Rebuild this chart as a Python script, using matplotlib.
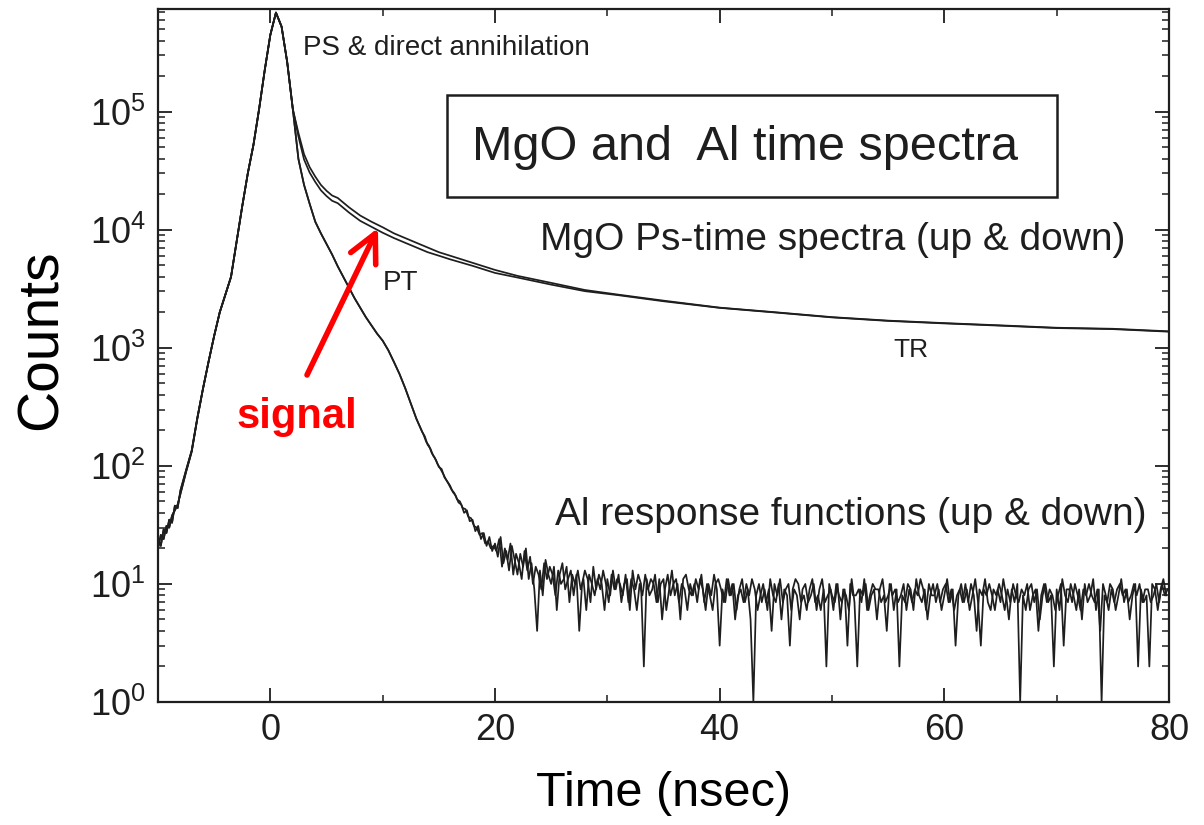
import numpy as np
import matplotlib
matplotlib.use('Agg')
import matplotlib.pyplot as plt
from matplotlib.patches import Rectangle
from matplotlib.ticker import LogLocator, MultipleLocator, NullFormatter, FixedLocator, FixedFormatter

plt.rcParams['font.family'] = ['Liberation Sans', 'DejaVu Sans']
plt.rcParams['mathtext.fontset'] = 'custom'
plt.rcParams['mathtext.rm'] = 'Liberation Sans'
plt.rcParams['mathtext.it'] = 'Liberation Sans:italic'
plt.rcParams['mathtext.bf'] = 'Liberation Sans:bold'

# ---------------- data ----------------
# common rising edge and peak (all four spectra overlap)
t_rise = [-10, -9.75, -9.5, -9.25, -9, -8.75, -8.5, -8.25, -8, -7.5, -7, -6.5, -6, -5.5, -5,
          -4.5, -4, -3.5, -3, -2.5, -2, -1.5, -1, -0.5, 0, 0.5, 1.0, 1.5, 2.0]
c_rise_a = [20, 26, 24, 31, 30, 38, 42, 47, 58, 89, 132, 251, 447, 759, 1260,
            2000, 2820, 3980, 7940, 15800, 30200, 52500, 105000, 224000, 447000, 690000,
            525000, 263000, 105000]
c_rise_b = [24, 21, 29, 27, 35, 33, 46, 44, 62, 92, 135, 255, 450, 765, 1265,
            2010, 2830, 4000, 7960, 15900, 30300, 52700, 105500, 225000, 448000, 692000,
            527000, 264000, 106000]

# MgO Ps-time spectra (up & down)
t_mgo = [2.5, 3, 3.5, 4, 4.5, 5, 5.5, 6, 7, 8, 9, 10, 11, 12, 13, 14, 15, 16, 18, 20,
         22, 25, 28, 31, 35, 40, 45, 50, 55, 60, 65, 70, 75, 80]
mgo_up = [66100, 43700, 33900, 28200, 24000, 21400, 19500, 18600, 15500, 13200, 11700,
          10500, 9330, 8510, 7760, 7080, 6460, 6030, 5250, 4570, 4070, 3550, 3090, 2820,
          2510, 2190, 2000, 1820, 1700, 1620, 1550, 1480, 1450, 1380]
mgo_down = [61700, 39400, 30500, 25400, 21600, 19300, 17600, 16800, 14000, 11900, 10600,
            9440, 8510, 7760, 7080, 6460, 6030, 5620, 4950, 4310, 3940, 3430, 3020, 2790,
            2480, 2180, 1990, 1810, 1690, 1610, 1540, 1470, 1440, 1370]

# Al response functions: smooth decay part (both overlap)
t_al = [2.5, 3.0, 3.5, 4.0, 4.5, 5.0, 5.5, 6.0, 6.5, 7.0, 7.5, 8.0, 8.5, 9.0, 9.5, 10.0,
        10.5, 11.0, 11.5, 12.0, 12.5, 13.0]
al_smooth = [39800, 24000, 16600, 11700, 9330, 7590, 6170, 4900, 3980, 3240, 2630, 2190,
             1820, 1550, 1320, 1150, 955, 760, 600, 457, 339, 251]

# Al, up: noisy decay and background
t_al_up_mid = [13.5, 13.75, 14, 14.25, 14.5, 14.75, 15, 15.25, 15.5, 15.75, 16, 16.25, 16.5,
               16.75, 17, 17.25, 17.5, 17.75, 18, 18.25, 18.5, 18.75, 19, 19.25, 19.5, 19.75]
al_up_mid = [195, 178, 151, 140, 122, 112, 98, 94, 80, 74, 68, 60, 56, 49, 47, 40, 42, 34,
             35, 28, 31, 24, 27, 21, 25, 19]
t_al_dn_mid = [13.625, 13.875, 14.125, 14.375, 14.625, 14.875, 15.125, 15.375, 15.625,
               15.875, 16.125, 16.375, 16.625, 16.875, 17.125, 17.375, 17.625, 17.875,
               18.125, 18.375, 18.625, 18.875, 19.125, 19.375, 19.625, 19.875]
al_dn_mid = [185, 160, 148, 128, 118, 104, 95, 86, 77, 70, 63, 59, 52, 50, 44, 43, 37, 36,
             31, 30, 26, 27, 22, 23, 20, 21]

# background tails, 0.25 ns channels from 20 ns (up) and 20.125 ns (down)
al_up_tail = [
    22, 17, 25, 15, 19, 13, 21, 16, 12, 18, 14, 20, 11, 15, 9, 4, 13, 8, 16, 12,
    10, 14, 6, 12, 15, 9, 11, 13, 8, 12, 4, 10, 13, 11, 7, 14, 9, 12, 10, 6,
    11, 8, 13, 9, 12, 7, 10, 11, 6, 13, 9, 12, 10, 2, 11, 8, 9, 12, 7, 10,
    11, 6, 9, 13, 8, 10, 5, 11, 12, 9, 8, 10, 7, 11, 9, 6, 10, 8, 12, 9,
    3, 9, 7, 11, 8, 10, 6, 9, 11, 7, 9, 5, 1, 8, 10, 7, 9, 6, 11, 8,
    7, 10, 5, 9, 8, 3, 9, 11, 10, 7, 8, 6, 9, 11, 7, 8, 6, 9, 2, 10,
    8, 7, 10, 5, 9, 8, 6, 11, 7, 2, 9, 8, 10, 6, 8, 9, 5, 9, 11, 7,
    8, 10, 6, 9, 2, 8, 7, 10, 9, 6, 11, 8, 7, 9, 5, 8, 10, 7, 9, 6,
    8, 11, 7, 9, 3, 8, 10, 7, 9, 6, 8, 11, 7, 3, 9, 8, 10, 8, 6, 9,
    7, 11, 8, 5, 9, 7, 10, 1, 8, 6, 9, 10, 7, 9, 5, 8, 10, 7, 8, 2,
    9, 6, 11, 8, 7, 10, 8, 6, 9, 5, 10, 7, 8, 11, 6, 9, 1, 8, 7, 10,
    9, 6, 8, 11, 7, 9, 5, 8, 10, 2, 9, 7, 8, 2, 10, 9, 6, 9, 11, 8]
al_dn_tail = [
    19, 24, 14, 20, 16, 22, 12, 18, 15, 11, 19, 13, 17, 10, 14, 12, 9, 15, 11, 14,
    12, 8, 13, 10, 11, 14, 7, 12, 10, 13, 9, 11, 6, 12, 10, 8, 11, 9, 13, 10,
    7, 12, 9, 11, 10, 8, 12, 7, 11, 9, 6, 10, 8, 12, 9, 11, 10, 7, 11, 5,
    9, 12, 8, 10, 11, 7, 10, 9, 6, 10, 8, 11, 9, 12, 7, 10, 8, 6, 10, 11,
    9, 7, 11, 8, 10, 5, 8, 9, 7, 10, 8, 11, 9, 6, 8, 10, 7, 9, 4, 10,
    8, 11, 7, 9, 10, 6, 9, 8, 5, 9, 10, 7, 8, 10, 6, 9, 11, 7, 8, 9,
    6, 10, 8, 7, 9, 3, 10, 8, 8, 9, 7, 11, 6, 8, 10, 9, 9, 7, 8, 4,
    10, 8, 9, 7, 8, 10, 6, 9, 7, 9, 8, 11, 9, 6, 10, 8, 8, 10, 7, 9,
    10, 7, 9, 6, 8, 9, 7, 10, 7, 10, 8, 4, 9, 8, 11, 7, 6, 9, 8, 10,
    8, 6, 9, 7, 10, 8, 7, 9, 8, 10, 6, 8, 9, 4, 8, 10, 7, 9, 8, 6,
    8, 10, 3, 9, 9, 7, 10, 8, 6, 9, 8, 10, 8, 7, 9, 4, 10, 8, 6, 9,
    7, 9, 10, 8, 9, 7, 8, 10, 8, 10, 7, 9, 9, 7, 8, 10, 7, 10, 8, 9]
t_al_up_tail = 20.0 + 0.25 * np.arange(len(al_up_tail))
t_al_dn_tail = 20.125 + 0.25 * np.arange(len(al_dn_tail))

# axis settings
x_ticks = [0, 20, 40, 60, 80]
y_decades = [0, 1, 2, 3, 4, 5]

# ---------------- figure ----------------
W, H = 1204, 825
fig = plt.figure(figsize=(W / 100, H / 100), dpi=100)
L, R, T, B = 158, 1169, 9, 702
ax = fig.add_axes([L / W, 1 - B / H, (R - L) / W, (B - T) / H])

line_kw = dict(color='#1e1e1e', lw=1.25)

def seg(*parts):
    return np.concatenate([np.asarray(p, dtype=float) for p in parts])

# MgO up & down
ax.plot(seg(t_rise, t_mgo), seg(c_rise_a, mgo_up), **line_kw)
ax.plot(seg(t_rise, t_mgo), seg(c_rise_b, mgo_down), **line_kw)
# Al up & down
ax.plot(seg(t_rise, t_al, t_al_up_mid, t_al_up_tail),
        seg(c_rise_a, al_smooth, al_up_mid, al_up_tail), **line_kw)
ax.plot(seg(t_rise, t_al, t_al_dn_mid, t_al_dn_tail),
        seg(c_rise_b, al_smooth, al_dn_mid, al_dn_tail), **line_kw)

ax.set_yscale('log')
ax.set_xlim(-10, 80)
ax.set_ylim(1, 10 ** 5.87)

ax.xaxis.set_major_locator(FixedLocator(x_ticks))
ax.xaxis.set_major_formatter(FixedFormatter([str(v) for v in x_ticks]))
ax.xaxis.set_minor_locator(MultipleLocator(10))
ax.yaxis.set_major_locator(FixedLocator([10.0 ** d for d in y_decades]))
ax.yaxis.set_major_formatter(FixedFormatter([r'$\mathregular{10^{%d}}$' % d for d in y_decades]))
ax.yaxis.set_minor_locator(LogLocator(base=10, subs=np.arange(2, 10), numticks=20))
ax.yaxis.set_minor_formatter(NullFormatter())

ax.tick_params(which='both', direction='in', top=True, right=True, colors='#1e1e1e')
ax.tick_params(which='major', length=10, width=1.3)
ax.tick_params(which='minor', length=5, width=1.1)
ax.tick_params(axis='x', which='major', labelsize=26, pad=8)
ax.tick_params(axis='y', which='major', labelsize=26, pad=9)
for s in ax.spines.values():
    s.set_linewidth(1.6)
    s.set_color('#1e1e1e')

ax.set_xlabel('Time (nsec)', fontsize=35)
ax.set_ylabel('Counts', fontsize=41)
ax.xaxis.set_label_coords(((535 + 793) / 2 - L) / (R - L), -(793 - B) / (B - T))
ax.xaxis.label.set_va('center')
ax.yaxis.set_label_coords((42 - L) / (R - L), (B - 340) / (B - T))
ax.yaxis.label.set_va('center')

def axc(px, py):
    return ((px - L) / (R - L), (B - py) / (B - T))

tc = '#1e1e1e'
ax.text(*axc(303, 48), 'PS & direct annihilation', fontsize=20, ha='left', va='center',
        transform=ax.transAxes, color=tc)
x0, y0 = axc(447, 197)
x1, y1 = axc(1057, 95)
ax.add_patch(Rectangle((x0, y0), x1 - x0, y1 - y0, transform=ax.transAxes, fill=False,
                       lw=1.8, edgecolor=tc))
ax.text(*axc(745, 147), 'MgO and  Al time spectra', fontsize=35, ha='center', va='center',
        transform=ax.transAxes, color=tc)
ax.text(*axc(540, 240), 'MgO Ps-time spectra (up & down)', fontsize=28, ha='left',
        va='center', transform=ax.transAxes, color=tc)
ax.text(*axc(555, 515), 'Al response functions (up & down)', fontsize=28, ha='left',
        va='center', transform=ax.transAxes, color=tc)
ax.text(*axc(383, 283), 'PT', fontsize=20, ha='left', va='center',
        transform=ax.transAxes, color=tc)
ax.text(*axc(893, 350), 'TR', fontsize=19, ha='left', va='center',
        transform=ax.transAxes, color=tc)

# red annotation
ax.annotate('', xy=axc(378, 228), xytext=axc(307, 375), xycoords='axes fraction',
            textcoords='axes fraction',
            arrowprops=dict(arrowstyle='->,head_length=0.8,head_width=0.4', color='#ff0000',
                            lw=4, shrinkA=0, shrinkB=0, mutation_scale=25))
ax.text(*axc(297, 417), 'signal', fontsize=30, fontweight='bold', color='#ff0000',
        ha='center', va='center', transform=ax.transAxes)

fig.savefig('out.png', dpi=100)
